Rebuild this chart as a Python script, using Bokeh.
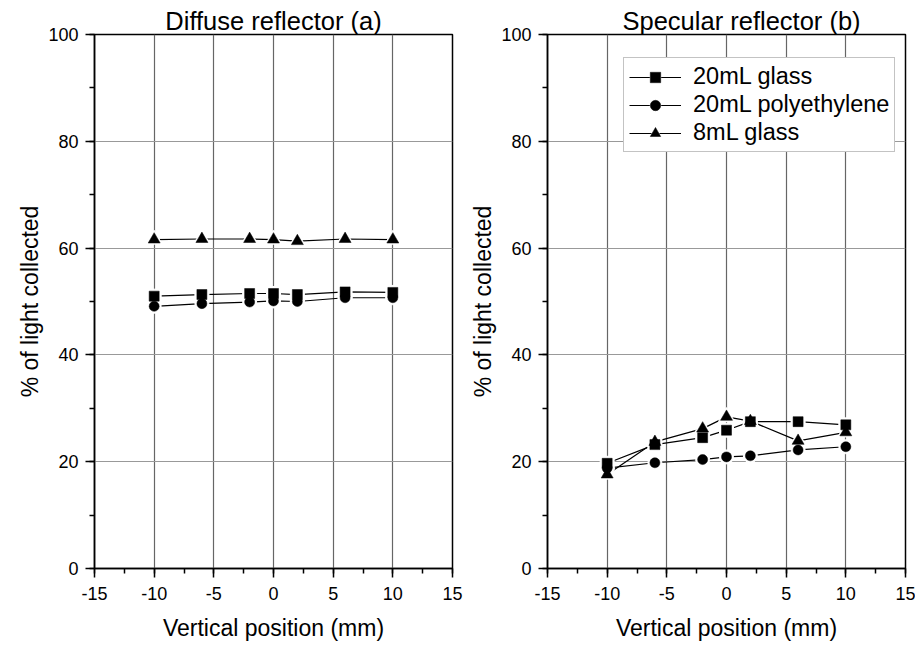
from bokeh.plotting import figure
from bokeh.layouts import row
from bokeh.models import Range1d, SingleIntervalTicker, Legend, LegendItem
from bokeh.embed import file_html
from bokeh.resources import INLINE

positions = [-10, -6, -2, 0, 2, 6, 10]

# Diffuse reflector (a)
diffuse_glass20 = [51.0, 51.3, 51.5, 51.5, 51.3, 51.8, 51.7]
diffuse_poly20 = [49.1, 49.6, 49.9, 50.1, 50.0, 50.7, 50.7]
diffuse_glass8 = [61.6, 61.7, 61.7, 61.6, 61.3, 61.7, 61.6]

# Specular reflector (b)
specular_glass20 = [19.7, 23.2, 24.5, 25.9, 27.5, 27.5, 26.9]
specular_poly20 = [18.8, 19.8, 20.4, 20.9, 21.1, 22.2, 22.8]
specular_glass8 = [17.6, 23.7, 26.2, 28.4, 27.6, 23.9, 25.5]

series_labels = ["20mL glass", "20mL polyethylene", "8mL glass"]
titles = ["Diffuse reflector (a)", "Specular reflector (b)"]
x_label = "Vertical position (mm)"
y_label = "% of light collected"
x_ticks = [-15, -10, -5, 0, 5, 10, 15]
x_tick_labels = ["-15", "-10", "-5", "0", "5", "10", "15"]

FONT = "Liberation Sans"
markers = ["square", "circle", "triangle"]
msizes = [10, 10, 12]


def make_panel(title, data, border_left, border_right, width, legend=False,
               title_align="center", title_offset=0):
    p = figure(width=width, height=646, output_backend="svg", toolbar_location=None,
               x_range=Range1d(-15, 15), y_range=Range1d(0, 100),
               min_border_left=border_left, min_border_right=border_right,
               min_border_top=34, min_border_bottom=78,
               frame_width=358, frame_height=534)
    p.title.text = title
    p.title.text_font = FONT
    p.title.text_font_size = "25.5px"
    p.title.text_font_style = "normal"
    p.title.text_color = "black"
    p.title.align = title_align
    p.title.standoff = 0
    p.title.offset = title_offset
    p.outline_line_color = "black"
    p.outline_line_width = 1.5
    p.background_fill_color = "white"
    p.border_fill_color = "white"

    p.xaxis.ticker = SingleIntervalTicker(interval=5, num_minor_ticks=2)
    p.yaxis.ticker = SingleIntervalTicker(interval=20, num_minor_ticks=2)
    p.xaxis.major_label_overrides = {t: s for t, s in zip(x_ticks, x_tick_labels)}
    for ax in (p.xaxis[0], p.yaxis[0]):
        ax.axis_line_color = "black"
        ax.axis_line_width = 1.5
        ax.major_tick_line_color = "black"
        ax.major_tick_line_width = 1.5
        ax.minor_tick_line_color = "black"
        ax.minor_tick_line_width = 1.5
        ax.major_tick_in = 0
        ax.major_tick_out = 9
        ax.minor_tick_in = 0
        ax.minor_tick_out = 5
        ax.major_label_text_font = FONT
        ax.major_label_text_font_size = "18px"
        ax.major_label_text_color = "black"
        ax.axis_label_text_font = FONT
        ax.axis_label_text_font_size = "23px"
        ax.axis_label_text_font_style = "normal"
        ax.axis_label_text_color = "black"
    p.xaxis.axis_label = x_label
    p.yaxis.axis_label = y_label
    p.xaxis.major_label_standoff = 9
    p.yaxis.major_label_standoff = 7
    p.xaxis.axis_label_standoff = 12
    p.yaxis.axis_label_standoff = 2

    p.xgrid.grid_line_color = "#666666"
    p.ygrid.grid_line_color = "#999999"
    p.xgrid.grid_line_width = 1.2
    p.ygrid.grid_line_width = 1.2

    lines, halos = [], []
    for ys in data:
        lines.append(p.line(positions, ys, line_color="black", line_width=1.2))
    for ys, mk, ms in zip(data, markers, msizes):
        halos.append(p.scatter(positions, ys, marker=mk, size=ms + 4,
                               fill_color="white", line_color="white", line_width=1))
    dots = []
    for ys, mk, ms in zip(data, markers, msizes):
        dots.append(p.scatter(positions, ys, marker=mk, size=ms,
                              fill_color="black", line_color="black", line_width=0.5))
    if legend:
        items = [LegendItem(label=lab, renderers=[l, h, d])
                 for lab, l, h, d in zip(series_labels, lines, halos, dots)]
        leg = Legend(items=items, location=(76, 416))
        leg.label_text_font = FONT
        leg.label_text_font_size = "23.5px"
        leg.label_text_color = "black"
        leg.glyph_width = 52
        leg.glyph_height = 26
        leg.label_height = 26
        leg.label_standoff = 12
        leg.spacing = 1
        leg.padding = 5
        leg.margin = 0
        leg.border_line_color = "#888888"
        leg.border_line_width = 1.2
        leg.background_fill_color = "white"
        leg.background_fill_alpha = 1.0
        p.add_layout(leg)
    return p


p1 = make_panel(titles[0], [diffuse_glass20, diffuse_poly20, diffuse_glass8],
                94, 14, 466)
p2 = make_panel(titles[1], [specular_glass20, specular_poly20, specular_glass8],
                81, 10, 449, legend=True, title_align="left", title_offset=75)

layout = row(p1, p2)
open("out.html", "w").write(file_html(layout, INLINE))
